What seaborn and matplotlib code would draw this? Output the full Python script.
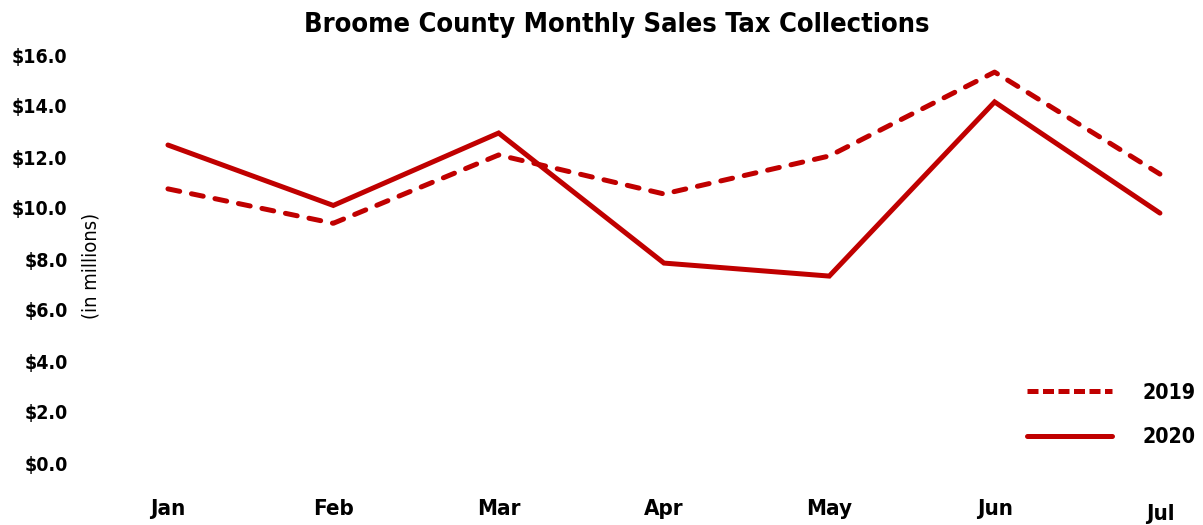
import matplotlib
matplotlib.use("Agg")
import matplotlib.pyplot as plt
import seaborn as sns
import pandas as pd
from matplotlib import font_manager
from matplotlib.lines import Line2D
from matplotlib.transforms import ScaledTranslation

# Monthly collections, in millions of dollars
months = ["Jan", "Feb", "Mar", "Apr", "May", "Jun", "Jul"]
sales_2019 = [10.75, 9.40, 12.08, 10.55, 12.04, 15.33, 11.33]
sales_2020 = [12.47, 10.10, 12.94, 7.84, 7.33, 14.16, 9.80]
y_ticks = [0, 2, 4, 6, 8, 10, 12, 14, 16]
y_tick_labels = [f"${v:.1f}" for v in y_ticks]

RED = "#C00000"

sns.set_theme(style="white")
installed = {f.name for f in font_manager.fontManager.ttflist}
if "Liberation Sans Narrow" in installed:
    FONT = ["Liberation Sans Narrow", "DejaVu Sans"]
    STRETCH = "normal"
else:
    FONT = ["DejaVu Sans"]
    STRETCH = "condensed"
plt.rcParams["font.family"] = FONT
plt.rcParams["font.stretch"] = STRETCH
plt.rcParams["text.color"] = "black"
plt.rcParams["axes.labelcolor"] = "black"
plt.rcParams["xtick.color"] = "black"
plt.rcParams["ytick.color"] = "black"

df = pd.DataFrame({
    "idx": list(range(len(months))) * 2,
    "value": sales_2019 + sales_2020,
    "year": ["2019"] * len(months) + ["2020"] * len(months),
})

W, H = 1203, 525
fig = plt.figure(figsize=(W / 100, H / 100), dpi=100)
left_px, right_px, bottom_px, top_px = 80, 1193, 62, 470
ax = fig.add_axes([left_px / W, bottom_px / H,
                   (right_px - left_px) / W, (top_px - bottom_px) / H])

sns.lineplot(data=df, x="idx", y="value", hue="year", style="year",
             palette={"2019": RED, "2020": RED},
             dashes={"2019": (2.4, 2.4), "2020": ""},
             linewidth=3.6, dash_capstyle="round", solid_capstyle="round",
             solid_joinstyle="miter", legend=False, ax=ax, clip_on=False)

ax.set_xlim(-0.532, 6.2)
ax.set_ylim(0, 16)
for s in ax.spines.values():
    s.set_visible(False)
ax.grid(False)
ax.set_xlabel("")
ax.set_ylabel("")

ax.set_yticks(y_ticks)
ax.set_yticklabels(y_tick_labels, fontsize=14, fontweight="bold", color="black")
ax.set_xticks(range(len(months)))
ax.set_xticklabels(months, fontsize=16, fontweight="bold", color="black")
ax.tick_params(axis="y", length=0, pad=9)
ax.tick_params(axis="x", length=0, pad=26)
# last month label sits a little lower
xl = ax.get_xticklabels()[-1]
xl.set_transform(xl.get_transform() + ScaledTranslation(0, -5 / 100, fig.dpi_scale_trans))

fig.text(617 / W, 1 - 25 / H, "Broome County Monthly Sales Tax Collections",
         ha="center", va="center", fontsize=19.5, fontweight="bold", color="black")
fig.text(91 / W, 1 - 266 / H, "(in millions)", rotation=90,
         ha="center", va="center", fontsize=14.5, color="black")

handles = [Line2D([], [], color=RED, lw=3.6, linestyle=(0, (2.2, 0.9)),
                  dash_capstyle="butt"),
           Line2D([], [], color=RED, lw=3.6)]
leg = ax.legend(handles, ["2019", "2020"], loc="center left",
                bbox_to_anchor=(1027 / W, 110 / H), bbox_transform=fig.transFigure,
                frameon=False, borderpad=0, borderaxespad=0,
                handlelength=4.0, handletextpad=1.45, labelspacing=1.15,
                prop={"size": 15.3, "weight": "bold"})
for t in leg.get_texts():
    t.set_color("black")

fig.savefig("out.png", dpi=100)
